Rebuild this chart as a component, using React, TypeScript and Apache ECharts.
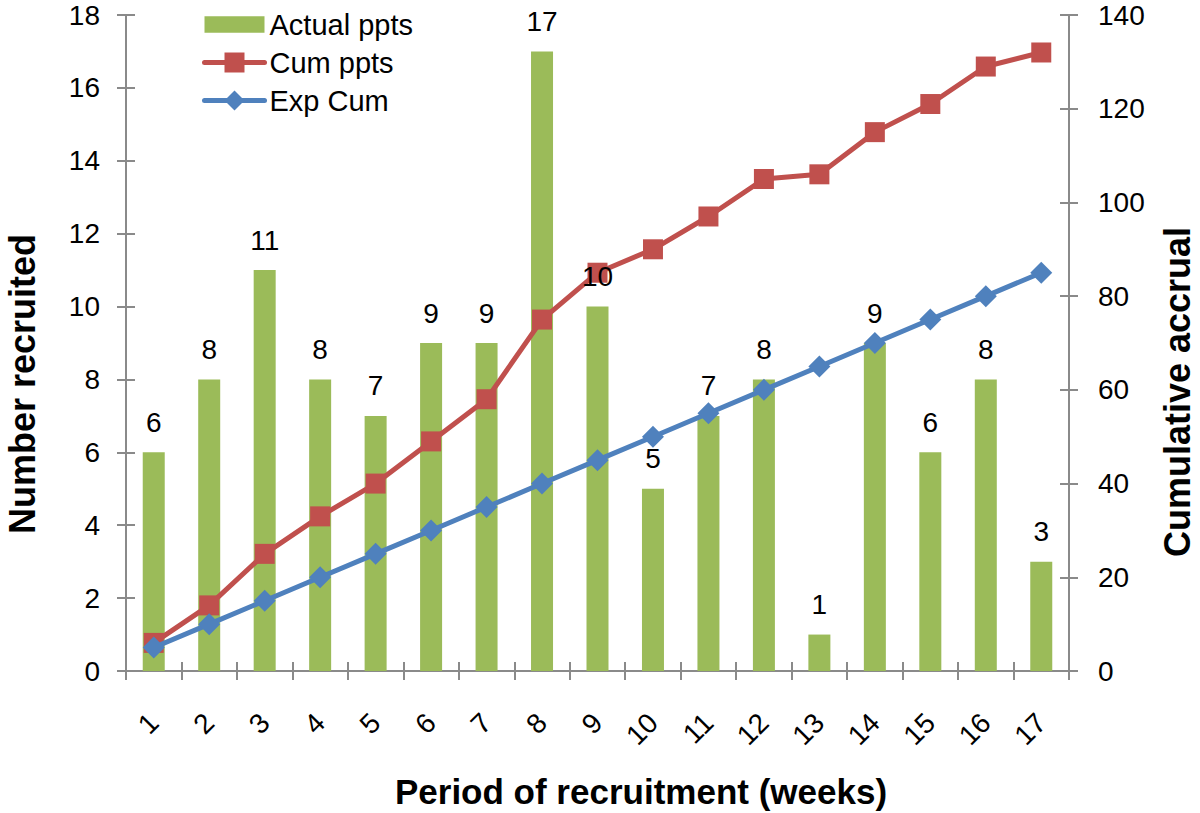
import React, { useEffect, useRef } from 'react';
import * as echarts from 'echarts';

const categories = ['1', '2', '3', '4', '5', '6', '7', '8', '9', '10', '11', '12', '13', '14', '15', '16', '17'];
const actualPpts = [6, 8, 11, 8, 7, 9, 9, 17, 10, 5, 7, 8, 1, 9, 6, 8, 3];
const cumPpts = [6, 14, 25, 33, 40, 49, 58, 75, 85, 90, 97, 105, 106, 115, 121, 129, 132];
const expCum = [5, 10, 15, 20, 25, 30, 35, 40, 45, 50, 55, 60, 65, 70, 75, 80, 85];
const seriesNames = ['Actual ppts', 'Cum ppts', 'Exp Cum'];
const leftRange = { min: 0, max: 18, interval: 2 };
const rightRange = { min: 0, max: 140, interval: 20 };
const titles = {
  left: 'Number recruited',
  right: 'Cumulative accrual',
  bottom: 'Period of recruitment (weeks)',
};

export default function App() {
  const ref = useRef<HTMLDivElement>(null);
  useEffect(() => {
    const chart = echarts.init(ref.current!, null, { renderer: 'svg' });
    const font = '"Liberation Sans", Arial, Helvetica, sans-serif';
    const axisColor = '#8a8a8a';
    const lineStyle = { color: axisColor, width: 2 };
    const yBase = (range: any, position: string, margin: number) => ({
      type: 'value',
      position,
      min: range.min,
      max: range.max,
      interval: range.interval,
      axisLine: { show: true, lineStyle },
      axisTick: { show: true, length: 9, lineStyle },
      axisLabel: { fontSize: 28, color: '#000', fontFamily: font, margin },
      splitLine: { show: false },
    });
    const yInner = (range: any, position: string) => ({
      type: 'value',
      position,
      min: range.min,
      max: range.max,
      interval: range.interval,
      axisLine: { show: false },
      axisTick: { show: true, inside: true, length: 9, lineStyle },
      axisLabel: { show: false },
      splitLine: { show: false },
    });
    const labelStyle = { show: true, position: 'top', distance: 16, fontSize: 28, color: '#000', fontFamily: font };
    chart.setOption({
      animation: false,
      backgroundColor: '#fff',
      textStyle: { fontFamily: font },
      grid: { left: 126, right: 131, top: 15, bottom: 142, containLabel: false },
      legend: {
        orient: 'vertical',
        left: 197,
        top: 5,
        itemWidth: 60,
        itemHeight: 25,
        itemGap: 9,
        symbolKeepAspect: true,
        lineStyle: { width: 5, cap: 'round' },
        textStyle: { fontSize: 29, color: '#000', fontFamily: font },
        data: [
          { name: seriesNames[0], icon: 'path://M0,0H58V16H0Z' },
          { name: seriesNames[1] },
          { name: seriesNames[2] },
        ],
      },
      xAxis: [
        {
          type: 'category',
          data: categories,
          boundaryGap: true,
          axisLine: { show: true, lineStyle },
          axisTick: { show: true, length: 9, lineStyle },
          axisLabel: { rotate: 45, interval: 0, fontSize: 28, color: '#000', fontFamily: font, margin: 47 },
        },
        {
          type: 'category',
          data: categories,
          position: 'bottom',
          boundaryGap: true,
          axisLine: { show: false },
          axisTick: { show: true, inside: true, length: 9, lineStyle },
          axisLabel: { show: false },
        },
      ],
      yAxis: [
        yBase(leftRange, 'left', 26),
        yBase(rightRange, 'right', 29),
        yInner(leftRange, 'left'),
        yInner(rightRange, 'right'),
      ],
      series: [
        {
          name: seriesNames[0],
          type: 'bar',
          xAxisIndex: 0,
          yAxisIndex: 0,
          data: actualPpts,
          barWidth: 22,
          barGap: '-100%',
          itemStyle: { color: '#9BBB59' },
          z: 2,
        },
        {
          name: seriesNames[1],
          type: 'line',
          xAxisIndex: 0,
          yAxisIndex: 1,
          data: cumPpts,
          symbol: 'rect',
          symbolSize: 20,
          itemStyle: { color: '#C0504D' },
          lineStyle: { color: '#C0504D', width: 5 },
          z: 3,
        },
        {
          name: seriesNames[2],
          type: 'line',
          xAxisIndex: 0,
          yAxisIndex: 1,
          data: expCum,
          symbol: 'diamond',
          symbolSize: 22,
          itemStyle: { color: '#4F81BD' },
          lineStyle: { color: '#4F81BD', width: 5 },
          z: 4,
        },
        {
          name: 'Actual ppts labels',
          type: 'bar',
          xAxisIndex: 0,
          yAxisIndex: 0,
          data: actualPpts,
          barWidth: 22,
          barGap: '-100%',
          itemStyle: { color: 'rgba(0,0,0,0)' },
          label: labelStyle,
          silent: true,
          z: 10,
        },
      ],
      graphic: [
        {
          type: 'text',
          x: 22,
          y: 384,
          rotation: Math.PI / 2,
          style: { text: titles.left, fontSize: 36, fontWeight: 'bold', fontFamily: font, fill: '#000', align: 'center', verticalAlign: 'middle' },
        },
        {
          type: 'text',
          x: 1177,
          y: 392,
          rotation: Math.PI / 2,
          style: { text: titles.right, fontSize: 36, fontWeight: 'bold', fontFamily: font, fill: '#000', align: 'center', verticalAlign: 'middle' },
        },
        {
          type: 'text',
          x: 641,
          y: 791,
          style: { text: titles.bottom, fontSize: 35, fontWeight: 'bold', fontFamily: font, fill: '#000', align: 'center', verticalAlign: 'middle' },
        },
      ],
    });
    return () => chart.dispose();
  }, []);
  return <div ref={ref} style={{ position: 'absolute', left: 0, top: 0, width: 1200, height: 813 }} />;
}
